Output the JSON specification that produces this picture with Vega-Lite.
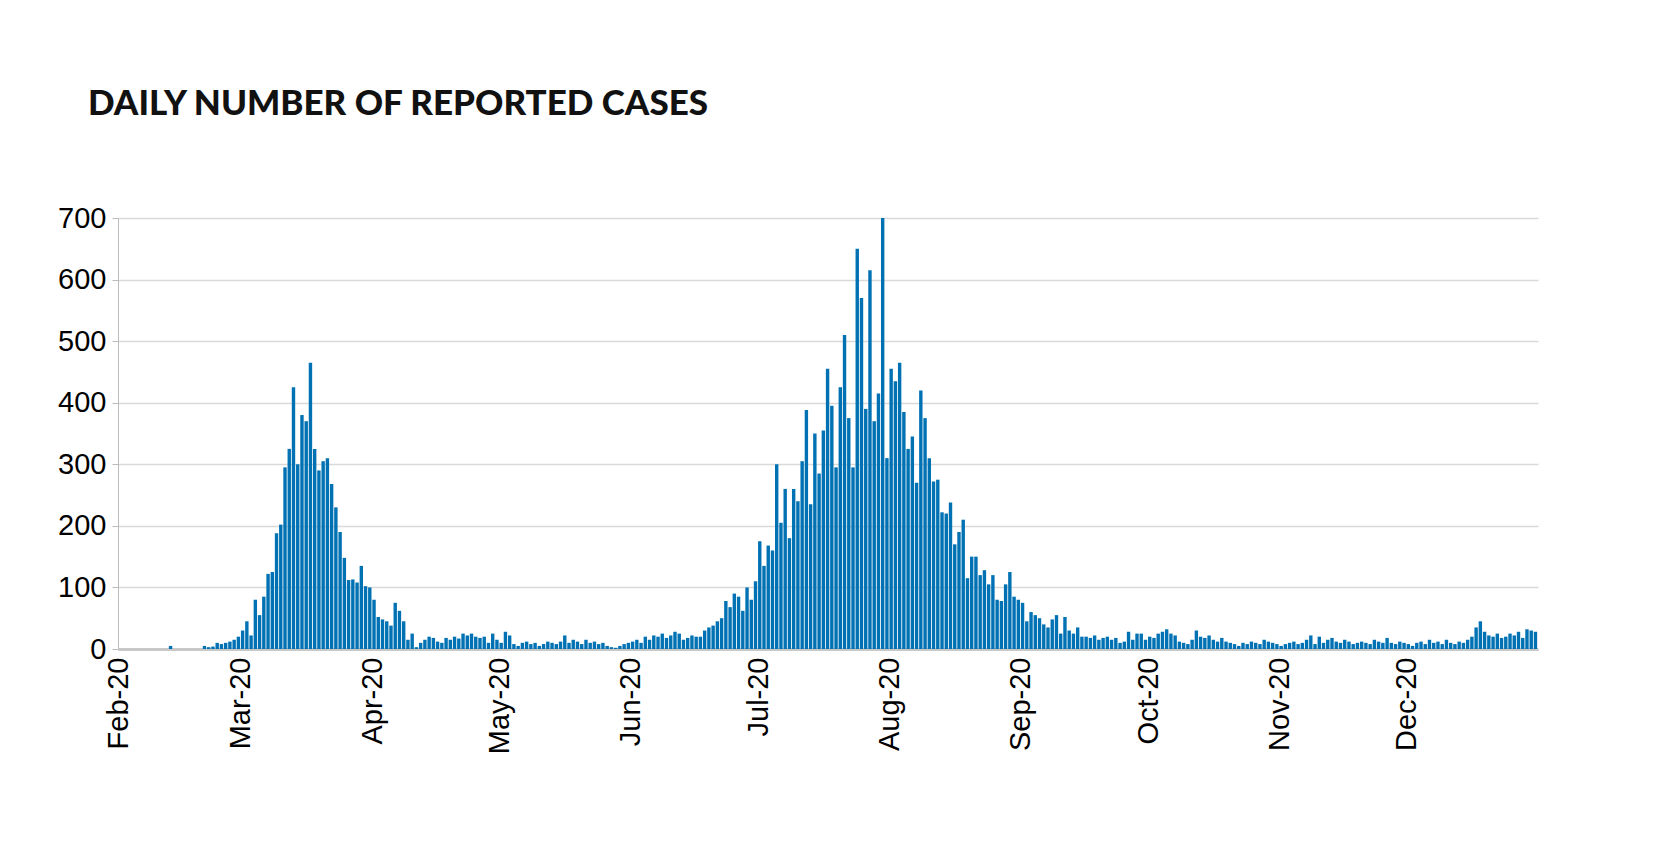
{"$schema":"https://vega.github.io/schema/vega-lite/v6.json","width":1420,"height":431,"autosize":"none","padding":{"left":118,"top":218,"right":136,"bottom":215},"background":"white",
"title":{"text":"DAILY NUMBER OF REPORTED CASES","anchor":"start","frame":"group","offset":82,"dx":-30,"font":"Lato","fontWeight":900,"fontSize":35,"color":"#111"},
"data":{"values":[
{"d":"2020-02-01","v":0},{"d":"2020-02-02","v":0},{"d":"2020-02-03","v":0},{"d":"2020-02-04","v":0},{"d":"2020-02-05","v":0},{"d":"2020-02-06","v":0},{"d":"2020-02-07","v":0},{"d":"2020-02-08","v":0},{"d":"2020-02-09","v":0},{"d":"2020-02-10","v":0},{"d":"2020-02-11","v":0},{"d":"2020-02-12","v":0},{"d":"2020-02-13","v":5},{"d":"2020-02-14","v":0},{"d":"2020-02-15","v":0},{"d":"2020-02-16","v":0},{"d":"2020-02-17","v":0},{"d":"2020-02-18","v":0},{"d":"2020-02-19","v":0},{"d":"2020-02-20","v":0},{"d":"2020-02-21","v":5},{"d":"2020-02-22","v":3},{"d":"2020-02-23","v":4},{"d":"2020-02-24","v":10},{"d":"2020-02-25","v":8},{"d":"2020-02-26","v":10},{"d":"2020-02-27","v":12},{"d":"2020-02-28","v":15},{"d":"2020-02-29","v":20},
{"d":"2020-03-01","v":30},{"d":"2020-03-02","v":45},{"d":"2020-03-03","v":22},{"d":"2020-03-04","v":80},{"d":"2020-03-05","v":55},{"d":"2020-03-06","v":85},{"d":"2020-03-07","v":122},{"d":"2020-03-08","v":125},{"d":"2020-03-09","v":188},{"d":"2020-03-10","v":202},{"d":"2020-03-11","v":295},{"d":"2020-03-12","v":325},{"d":"2020-03-13","v":425},{"d":"2020-03-14","v":300},{"d":"2020-03-15","v":380},{"d":"2020-03-16","v":370},{"d":"2020-03-17","v":465},{"d":"2020-03-18","v":325},{"d":"2020-03-19","v":290},{"d":"2020-03-20","v":305},{"d":"2020-03-21","v":310},{"d":"2020-03-22","v":268},{"d":"2020-03-23","v":230},{"d":"2020-03-24","v":190},{"d":"2020-03-25","v":148},{"d":"2020-03-26","v":112},{"d":"2020-03-27","v":113},{"d":"2020-03-28","v":108},{"d":"2020-03-29","v":135},{"d":"2020-03-30","v":102},{"d":"2020-03-31","v":100},
{"d":"2020-04-01","v":80},{"d":"2020-04-02","v":52},{"d":"2020-04-03","v":48},{"d":"2020-04-04","v":45},{"d":"2020-04-05","v":38},{"d":"2020-04-06","v":75},{"d":"2020-04-07","v":62},{"d":"2020-04-08","v":45},{"d":"2020-04-09","v":15},{"d":"2020-04-10","v":25},{"d":"2020-04-11","v":3},{"d":"2020-04-12","v":10},{"d":"2020-04-13","v":15},{"d":"2020-04-14","v":20},{"d":"2020-04-15","v":18},{"d":"2020-04-16","v":12},{"d":"2020-04-17","v":10},{"d":"2020-04-18","v":18},{"d":"2020-04-19","v":15},{"d":"2020-04-20","v":20},{"d":"2020-04-21","v":17},{"d":"2020-04-22","v":25},{"d":"2020-04-23","v":22},{"d":"2020-04-24","v":25},{"d":"2020-04-25","v":20},{"d":"2020-04-26","v":18},{"d":"2020-04-27","v":20},{"d":"2020-04-28","v":10},{"d":"2020-04-29","v":25},{"d":"2020-04-30","v":15},
{"d":"2020-05-01","v":10},{"d":"2020-05-02","v":28},{"d":"2020-05-03","v":22},{"d":"2020-05-04","v":8},{"d":"2020-05-05","v":5},{"d":"2020-05-06","v":10},{"d":"2020-05-07","v":12},{"d":"2020-05-08","v":8},{"d":"2020-05-09","v":10},{"d":"2020-05-10","v":5},{"d":"2020-05-11","v":8},{"d":"2020-05-12","v":12},{"d":"2020-05-13","v":10},{"d":"2020-05-14","v":8},{"d":"2020-05-15","v":12},{"d":"2020-05-16","v":22},{"d":"2020-05-17","v":10},{"d":"2020-05-18","v":15},{"d":"2020-05-19","v":12},{"d":"2020-05-20","v":8},{"d":"2020-05-21","v":15},{"d":"2020-05-22","v":10},{"d":"2020-05-23","v":12},{"d":"2020-05-24","v":8},{"d":"2020-05-25","v":10},{"d":"2020-05-26","v":5},{"d":"2020-05-27","v":3},{"d":"2020-05-28","v":2},{"d":"2020-05-29","v":5},{"d":"2020-05-30","v":8},{"d":"2020-05-31","v":10},
{"d":"2020-06-01","v":12},{"d":"2020-06-02","v":15},{"d":"2020-06-03","v":10},{"d":"2020-06-04","v":20},{"d":"2020-06-05","v":15},{"d":"2020-06-06","v":22},{"d":"2020-06-07","v":20},{"d":"2020-06-08","v":25},{"d":"2020-06-09","v":18},{"d":"2020-06-10","v":22},{"d":"2020-06-11","v":28},{"d":"2020-06-12","v":25},{"d":"2020-06-13","v":15},{"d":"2020-06-14","v":18},{"d":"2020-06-15","v":22},{"d":"2020-06-16","v":20},{"d":"2020-06-17","v":20},{"d":"2020-06-18","v":30},{"d":"2020-06-19","v":35},{"d":"2020-06-20","v":38},{"d":"2020-06-21","v":45},{"d":"2020-06-22","v":50},{"d":"2020-06-23","v":78},{"d":"2020-06-24","v":68},{"d":"2020-06-25","v":90},{"d":"2020-06-26","v":85},{"d":"2020-06-27","v":62},{"d":"2020-06-28","v":100},{"d":"2020-06-29","v":80},{"d":"2020-06-30","v":110},
{"d":"2020-07-01","v":175},{"d":"2020-07-02","v":135},{"d":"2020-07-03","v":168},{"d":"2020-07-04","v":160},{"d":"2020-07-05","v":300},{"d":"2020-07-06","v":205},{"d":"2020-07-07","v":260},{"d":"2020-07-08","v":180},{"d":"2020-07-09","v":260},{"d":"2020-07-10","v":240},{"d":"2020-07-11","v":305},{"d":"2020-07-12","v":388},{"d":"2020-07-13","v":235},{"d":"2020-07-14","v":350},{"d":"2020-07-15","v":285},{"d":"2020-07-16","v":355},{"d":"2020-07-17","v":455},{"d":"2020-07-18","v":395},{"d":"2020-07-19","v":295},{"d":"2020-07-20","v":425},{"d":"2020-07-21","v":510},{"d":"2020-07-22","v":375},{"d":"2020-07-23","v":295},{"d":"2020-07-24","v":650},{"d":"2020-07-25","v":570},{"d":"2020-07-26","v":390},{"d":"2020-07-27","v":615},{"d":"2020-07-28","v":370},{"d":"2020-07-29","v":415},{"d":"2020-07-30","v":700},{"d":"2020-07-31","v":310},
{"d":"2020-08-01","v":455},{"d":"2020-08-02","v":435},{"d":"2020-08-03","v":465},{"d":"2020-08-04","v":385},{"d":"2020-08-05","v":325},{"d":"2020-08-06","v":345},{"d":"2020-08-07","v":270},{"d":"2020-08-08","v":420},{"d":"2020-08-09","v":375},{"d":"2020-08-10","v":310},{"d":"2020-08-11","v":272},{"d":"2020-08-12","v":275},{"d":"2020-08-13","v":222},{"d":"2020-08-14","v":220},{"d":"2020-08-15","v":238},{"d":"2020-08-16","v":170},{"d":"2020-08-17","v":190},{"d":"2020-08-18","v":210},{"d":"2020-08-19","v":115},{"d":"2020-08-20","v":150},{"d":"2020-08-21","v":150},{"d":"2020-08-22","v":120},{"d":"2020-08-23","v":128},{"d":"2020-08-24","v":105},{"d":"2020-08-25","v":120},{"d":"2020-08-26","v":80},{"d":"2020-08-27","v":78},{"d":"2020-08-28","v":105},{"d":"2020-08-29","v":125},{"d":"2020-08-30","v":85},{"d":"2020-08-31","v":80},
{"d":"2020-09-01","v":75},{"d":"2020-09-02","v":45},{"d":"2020-09-03","v":60},{"d":"2020-09-04","v":55},{"d":"2020-09-05","v":50},{"d":"2020-09-06","v":40},{"d":"2020-09-07","v":35},{"d":"2020-09-08","v":48},{"d":"2020-09-09","v":55},{"d":"2020-09-10","v":25},{"d":"2020-09-11","v":52},{"d":"2020-09-12","v":30},{"d":"2020-09-13","v":25},{"d":"2020-09-14","v":35},{"d":"2020-09-15","v":20},{"d":"2020-09-16","v":20},{"d":"2020-09-17","v":18},{"d":"2020-09-18","v":22},{"d":"2020-09-19","v":15},{"d":"2020-09-20","v":18},{"d":"2020-09-21","v":20},{"d":"2020-09-22","v":15},{"d":"2020-09-23","v":18},{"d":"2020-09-24","v":10},{"d":"2020-09-25","v":12},{"d":"2020-09-26","v":28},{"d":"2020-09-27","v":15},{"d":"2020-09-28","v":25},{"d":"2020-09-29","v":25},{"d":"2020-09-30","v":15},
{"d":"2020-10-01","v":20},{"d":"2020-10-02","v":18},{"d":"2020-10-03","v":25},{"d":"2020-10-04","v":28},{"d":"2020-10-05","v":32},{"d":"2020-10-06","v":25},{"d":"2020-10-07","v":22},{"d":"2020-10-08","v":12},{"d":"2020-10-09","v":10},{"d":"2020-10-10","v":8},{"d":"2020-10-11","v":15},{"d":"2020-10-12","v":30},{"d":"2020-10-13","v":20},{"d":"2020-10-14","v":18},{"d":"2020-10-15","v":22},{"d":"2020-10-16","v":15},{"d":"2020-10-17","v":12},{"d":"2020-10-18","v":18},{"d":"2020-10-19","v":12},{"d":"2020-10-20","v":10},{"d":"2020-10-21","v":8},{"d":"2020-10-22","v":5},{"d":"2020-10-23","v":10},{"d":"2020-10-24","v":8},{"d":"2020-10-25","v":12},{"d":"2020-10-26","v":10},{"d":"2020-10-27","v":8},{"d":"2020-10-28","v":15},{"d":"2020-10-29","v":12},{"d":"2020-10-30","v":10},{"d":"2020-10-31","v":8},
{"d":"2020-11-01","v":5},{"d":"2020-11-02","v":8},{"d":"2020-11-03","v":10},{"d":"2020-11-04","v":12},{"d":"2020-11-05","v":8},{"d":"2020-11-06","v":10},{"d":"2020-11-07","v":15},{"d":"2020-11-08","v":22},{"d":"2020-11-09","v":8},{"d":"2020-11-10","v":20},{"d":"2020-11-11","v":10},{"d":"2020-11-12","v":15},{"d":"2020-11-13","v":18},{"d":"2020-11-14","v":12},{"d":"2020-11-15","v":10},{"d":"2020-11-16","v":15},{"d":"2020-11-17","v":12},{"d":"2020-11-18","v":8},{"d":"2020-11-19","v":10},{"d":"2020-11-20","v":12},{"d":"2020-11-21","v":10},{"d":"2020-11-22","v":8},{"d":"2020-11-23","v":15},{"d":"2020-11-24","v":12},{"d":"2020-11-25","v":10},{"d":"2020-11-26","v":18},{"d":"2020-11-27","v":10},{"d":"2020-11-28","v":8},{"d":"2020-11-29","v":12},{"d":"2020-11-30","v":10},
{"d":"2020-12-01","v":8},{"d":"2020-12-02","v":5},{"d":"2020-12-03","v":10},{"d":"2020-12-04","v":12},{"d":"2020-12-05","v":8},{"d":"2020-12-06","v":15},{"d":"2020-12-07","v":10},{"d":"2020-12-08","v":12},{"d":"2020-12-09","v":8},{"d":"2020-12-10","v":15},{"d":"2020-12-11","v":10},{"d":"2020-12-12","v":8},{"d":"2020-12-13","v":12},{"d":"2020-12-14","v":10},{"d":"2020-12-15","v":15},{"d":"2020-12-16","v":20},{"d":"2020-12-17","v":35},{"d":"2020-12-18","v":45},{"d":"2020-12-19","v":28},{"d":"2020-12-20","v":22},{"d":"2020-12-21","v":20},{"d":"2020-12-22","v":25},{"d":"2020-12-23","v":18},{"d":"2020-12-24","v":20},{"d":"2020-12-25","v":25},{"d":"2020-12-26","v":22},{"d":"2020-12-27","v":28},{"d":"2020-12-28","v":18},{"d":"2020-12-29","v":32},{"d":"2020-12-30","v":30},{"d":"2020-12-31","v":28}
]},
"mark":{"type":"bar","color":"#0072b4","width":3.4,"align":"left"},
"encoding":{
"x":{"field":"d","type":"temporal","timeUnit":"utcyearmonthdate","title":null,
"scale":{"type":"utc","domain":[{"year":2020,"month":2,"date":1,"utc":true},{"year":2021,"month":1,"date":1,"utc":true}]},
"axis":{"format":"%b-%y","labelExpr":"datum.label == 'Jan-21' ? '' : datum.label","labelAngle":-90,"labelAlign":"right","labelBaseline":"middle","labelFont":"Liberation Sans","labelFontSize":29,"labelColor":"#000","labelPadding":8,"tickCount":{"interval":"month","step":1},"grid":false,"ticks":false,"domainColor":"#c8c8c8","domainWidth":3,"labelFlush":false,"labelOverlap":false}},
"y":{"field":"v","type":"quantitative","title":null,"scale":{"domain":[0,700]},
"axis":{"values":[0,100,200,300,400,500,600,700],"labelFont":"Liberation Sans","labelFontSize":29,"labelColor":"#000","labelPadding":6,"gridColor":"#d9d9d9","gridWidth":1.5,"domainColor":"#bbbbbb","tickColor":"#bbbbbb","tickSize":6}}
},
"config":{"view":{"stroke":null}}
}
